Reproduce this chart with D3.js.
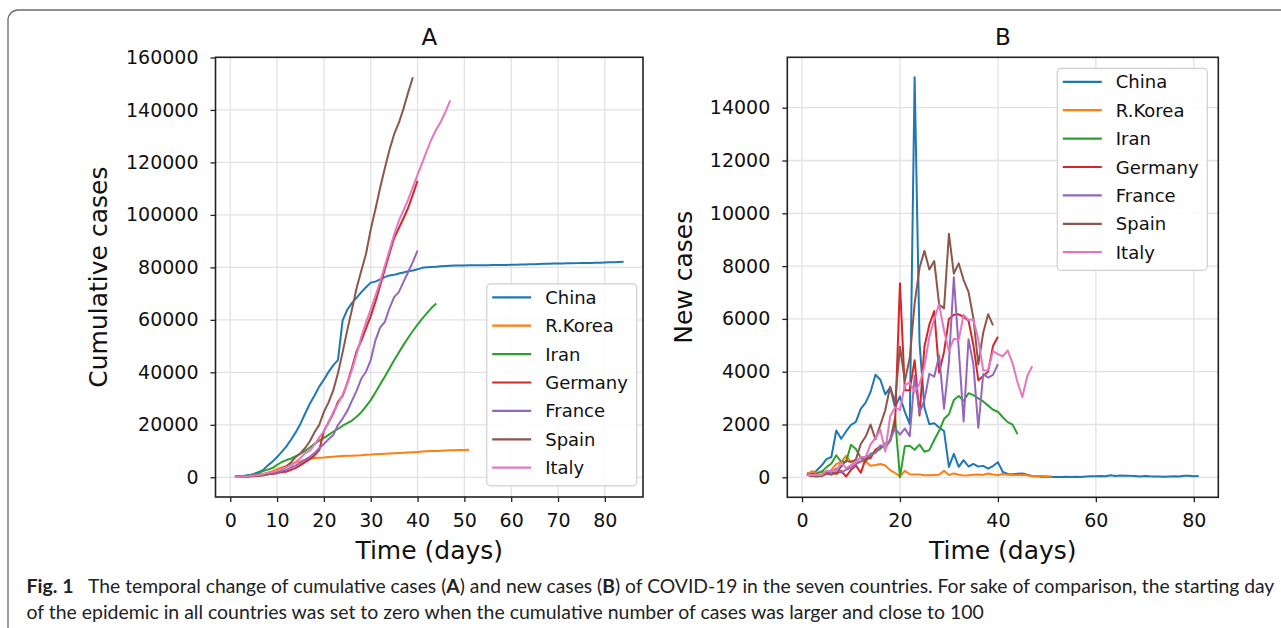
<!DOCTYPE html>
<html><head><meta charset="utf-8">
<script src="https://cdn.jsdelivr.net/npm/d3@7"></script>
<style>body{margin:0;background:#fff}svg{display:block}</style>
</head><body><svg id="c" width="1281" height="628"></svg>
<script>
const countries = ["China","R.Korea","Iran","Germany","France","Spain","Italy"];
const colors = ["#1f77b4","#ff7f0e","#2ca02c","#d62728","#9467bd","#8c564b","#e377c2"];

// Panel A: cumulative cases, day 1..n
const cumChina = [291,440,571,830,1287,1975,2744,4515,5974,7711,9692,11791,
 14380,17205,20438,24324,28018,31161,34546,37198,40171,42638,44653,59804,63851,66492,68500,70548,72436,74185,74576,75465,76288,76936,77150,77658,78064,78497,78824,79251,79824,
 80026,80151,80270,80409,80552,80651,80695,80735,80754,80778,80793,80813,80824,80844,80860,80881,80894,80928,80967,81008,81054,81093,81171,81218,81285,81340,81394,81439,81470,81518,81554,
 81589,81620,81639,81669,81708,81740,81802,81865,81907,81953,82052,82160];
const cumKorea = [104,204,433,602,833,977,1261,1766,2337,3150,3736,4335,5186,5621,6088,6593,7041,7313,7478,7513,7755,7869,7979,8086,8162,8236,8320,8413,8565,8652,8799,8897,8961,9037,9137,9241,9332,9478,9583,9661,9786,9887,9976,10062,10156,10237,10284,10331,10384,10423,10450];
const cumIran = [139,245,388,593,978,1501,2336,2922,3513,4747,5823,6566,7161,8042,9000,10075,11364,12729,13938,14991,16169,17361,18407,19644,20610,21638,23049,24811,27017,29406,32332,35408,38309,41495,44605,47593,50468,53183,55743,58226,60500,62589,64586,66220];
const cumGermany = [230,270,330,430,650,840,970,1210,1240,1520,1970,2140,2840,3570,4610,5780,6920,8320,10320,17670,20970,24270,28710,31050,36010,41790,48080,52050,56800,61410,66870,73020,79200,85280,91210,94890,98720,102730,107700,113020];
const cumFrance = [200,261,282,355,493,683,1019,1196,1482,1854,2351,2946,3731,4569,5493,6703,7800,9204,11065,12682,14529,16088,19926,22372,25303,29225,33034,37645,40244,44620,52198,57059,59175,64408,68675,70548,74460,78237,82118,86404];
const cumSpain = [120,165,222,259,400,500,673,1073,1695,2277,2950,4209,5753,7753,9191,11178,13716,17147,19980,24926,28572,33089,39673,47610,56188,64059,72248,78797,85195,94417,102136,110238,117710,124736,130759,135032,140510,146690,152446];
const cumItaly = [155,229,322,400,650,888,1128,1694,2036,2502,3089,3858,4636,5883,7375,9172,10149,12462,15113,17660,21157,24747,27980,31506,35713,41035,47021,53578,59138,63927,69176,74386,80539,86498,92472,97689,101739,105792,110574,115242,119827,124632,128948,132547,135586,139422,143626];

// Panel B: new cases, day 1..n
const newChina = [149,131,259,444,688,769,1771,1459,1737,1982,2102,
 2590,2829,3235,3887,3694,3143,3399,2656,3062,2478,2015,15152,5090,2641,2009,2048,1886,1749,394,889,397,648,409,508,406,433,327,427,573,
 202,125,119,139,143,99,44,40,19,24,15,8,11,20,16,21,13,34,39,41,46,39,78,47,67,55,54,45,31,48,36,
 35,31,19,30,39,32,62,63,42,46];
const newKorea = [100,229,169,231,144,284,505,571,813,586,599,600,600,435,467,505,448,272,165,35,242,114,110,107,76,74,84,93,250,87,147,98,64,76,100,104,91,146,105,78,125,101,89,86,94,81,47,47,53,39,27];
const newIran = [100,106,143,205,385,523,835,586,591,1234,1076,743,595,881,958,1075,1289,1365,2262,0,1178,1192,1046,1237,966,1028,1411,1762,2206,2389,2926,3076,2901,3186,3110,2987,2875,2715,2560,2483,2274,2089,1997,1634];
const newGermany = [100,37,66,100,220,188,129,241,30,281,451,170,700,730,1040,1170,1140,1400,2000,7350,3300,3300,4438,2342,4954,5780,6294,3965,4751,6000,6156,6174,6082,5936,5000,3677,3834,4003,4974,5323];
const newFrance = [100,61,21,73,138,190,336,177,286,372,497,595,785,838,924,1210,1097,1404,1861,1617,1847,1559,3838,2446,2931,3922,3809,4611,2599,4376,7578,4861,2116,5233,4267,1873,3912,3777,3881,4286];
const newSpain = [100,45,57,37,141,100,173,400,622,582,673,1259,1544,2000,1438,1987,2538,3431,2833,4946,3646,4517,6584,7937,8578,7871,8189,6549,6398,9222,7719,8102,7472,7026,6023,4273,5478,6180,5756];
const newItaly = [100,77,93,78,250,238,240,566,342,466,587,769,778,1247,1492,1797,977,2313,2651,2547,3497,3590,3233,3526,4207,5322,5986,6557,5560,4789,5249,5210,6153,5959,5974,5217,4050,4053,4782,4668,4585,4805,4316,3599,3039,3836,4204];

const xTicksA = [0,10,20,30,40,50,60,70,80];
const yTicksA = [0,20000,40000,60000,80000,100000,120000,140000,160000];
const xTicksB = [0,20,40,60,80];
const yTicksB = [0,2000,4000,6000,8000,10000,12000,14000];

const titles = ["A","B"];
const xLabel = "Time (days)";
const yLabels = ["Cumulative cases","New cases"];
const captionBold = "Fig. 1";
const captionParts = ["The temporal change of cumulative cases","A","and new cases","B",
  "of COVID-19 in the seven countries. For sake of comparison, the starting day"];
const caption2 = "of the epidemic in all countries was set to zero when the cumulative number of cases was larger and close to 100";

const svg = d3.select("#c");
svg.append("rect").attr("x",8).attr("y",10).attr("width",1300).attr("height",660)
  .attr("rx",10).attr("fill","#fff").attr("stroke","#6b6b6b").attr("stroke-width",1.3);

function pad(ext){const r=ext[1]-ext[0];return [ext[0]-0.05*r, ext[1]+0.05*r];}
const FONT = "DejaVu Sans, Verdana, sans-serif";

function drawPanel(cfg){
  const {L,R,T,B,series,xTicks,yTicks,title,ylabel,ylabelX,legend} = cfg;
  const g = svg.append("g");
  const xDom = pad([1, d3.max(series, s=>s.length)]);
  const yDom = pad([d3.min(series, s=>d3.min(s)), d3.max(series, s=>d3.max(s))]);
  const x = d3.scaleLinear().domain(xDom).range([L,R]);
  const y = d3.scaleLinear().domain(yDom).range([B,T]);
  g.append("g").selectAll("line").data(xTicks).join("line")
    .attr("x1",d=>x(d)).attr("x2",d=>x(d)).attr("y1",T).attr("y2",B)
    .attr("stroke","#e2e2e2").attr("stroke-width",1.3);
  g.append("g").selectAll("line").data(yTicks).join("line")
    .attr("y1",d=>y(d)).attr("y2",d=>y(d)).attr("x1",L).attr("x2",R)
    .attr("stroke","#e2e2e2").attr("stroke-width",1.3);
  const line = d3.line().x((v,i)=>x(i+1)).y(v=>y(v));
  series.forEach((s,i)=>{
    g.append("path").attr("d",line(s)).attr("fill","none")
      .attr("stroke",colors[i]).attr("stroke-width",2).attr("stroke-linejoin","round");
  });
  const ax = g.append("g").attr("transform",`translate(0,${B})`)
    .call(d3.axisBottom(x).tickValues(xTicks).tickFormat(d3.format("d")).tickSize(5).tickPadding(11.5));
  const ay = g.append("g").attr("transform",`translate(${L},0)`)
    .call(d3.axisLeft(y).tickValues(yTicks).tickFormat(d3.format("d")).tickSize(5).tickPadding(12));
  [ax,ay].forEach(a=>{
    a.select(".domain").remove();
    a.selectAll(".tick line").attr("stroke","#222").attr("stroke-width",1.3);
    a.selectAll(".tick text").attr("fill","#111").style("font-family",FONT).style("font-size","19px");
  });
  g.append("rect").attr("x",L).attr("y",T).attr("width",R-L).attr("height",B-T)
    .attr("fill","none").attr("stroke","#222").attr("stroke-width",1.6);
  g.append("text").attr("x",(L+R)/2).attr("y",45).attr("text-anchor","middle")
    .style("font-family",FONT).style("font-size","23px").attr("fill","#111").text(title);
  g.append("text").attr("x",(L+R)/2).attr("y",559).attr("text-anchor","middle")
    .style("font-family",FONT).style("font-size","25px").attr("fill","#111").text(xLabel);
  g.append("text").attr("transform",`translate(${ylabelX},${(T+B)/2}) rotate(-90)`).attr("text-anchor","middle")
    .style("font-family",FONT).style("font-size","25px").attr("fill","#111").text(ylabel);
  const lg = g.append("g").attr("transform",`translate(${legend.x},${legend.y})`);
  lg.append("rect").attr("width",150).attr("height",202).attr("rx",4)
    .attr("fill","#fff").attr("fill-opacity",0.85).attr("stroke","#d0d0d0").attr("stroke-width",1.2);
  countries.forEach((c,i)=>{
    const cy = 13.5 + i*28.4;
    lg.append("line").attr("x1",5.5).attr("x2",44.5).attr("y1",cy).attr("y2",cy)
      .attr("stroke",colors[i]).attr("stroke-width",2.2);
    lg.append("text").attr("x",58.5).attr("y",cy+6.6)
      .style("font-family",FONT).style("font-size","18px").attr("fill","#111").text(c);
  });
}

drawPanel({L:215.5,R:643,T:57.3,B:497,
  series:[cumChina,cumKorea,cumIran,cumGermany,cumFrance,cumSpain,cumItaly],
  xTicks:xTicksA,yTicks:yTicksA,title:titles[0],ylabel:yLabels[0],ylabelX:107,
  legend:{x:486.7,y:283.8}});
drawPanel({L:787.3,R:1218.3,T:57.3,B:497.3,
  series:[newChina,newKorea,newIran,newGermany,newFrance,newSpain,newItaly],
  xTicks:xTicksB,yTicks:yTicksB,title:titles[1],ylabel:yLabels[1],ylabelX:692,
  legend:{x:1057.3,y:68.3}});

// caption: font size fitted so each line spans its width in the reference
const CF = "Lato, 'Open Sans', sans-serif";
function capText(x,y,target,bold){
  const t = svg.append("text").attr("x",x).attr("y",y).style("font-family",CF).style("font-size","19.5px")
    .style("font-weight",bold?"bold":"normal").attr("fill","#222");
  t.fit = ()=>{const w=t.node().getComputedTextLength(); if(w>0) t.style("font-size",(19.5*target/w).toFixed(2)+"px");};
  return t;
}
const c0 = capText(26.5,593,47,true); c0.text(captionBold); c0.fit();
const l1 = capText(88,593,1187,false);
l1.append("tspan").text(captionParts[0]+" (");
l1.append("tspan").style("font-weight","bold").text(captionParts[1]);
l1.append("tspan").text(") "+captionParts[2]+" (");
l1.append("tspan").style("font-weight","bold").text(captionParts[3]);
l1.append("tspan").text(") "+captionParts[4]);
l1.fit();
const l2 = capText(26.5,619,958,false); l2.text(caption2); l2.fit();
</script></body></html>
